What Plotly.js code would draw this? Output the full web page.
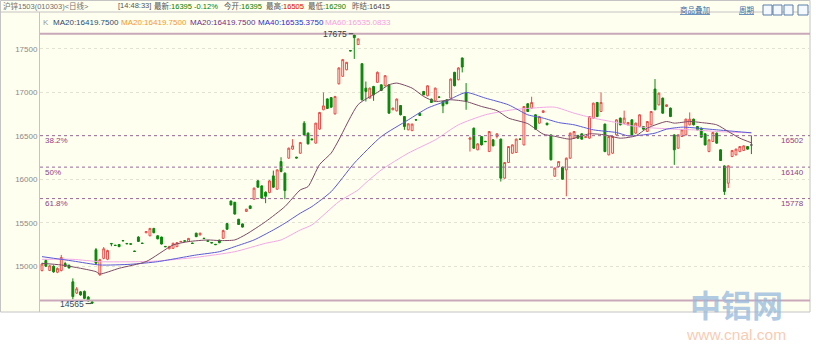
<!DOCTYPE html>
<html><head><meta charset="utf-8">
<script src="https://cdn.plot.ly/plotly-3.0.1.min.js"></script>
<style>html,body{margin:0;padding:0;background:#fff;}#chart{width:816px;height:362px;}</style>
</head><body><div id="chart"></div>
<script>
// ---- candle data (daily, 沪锌1503) ----
const opens = [
14950,15065,14950,15000,14930,14950,15030,15010,14820,14690,
14705,14710,14645,14590,15190,14900,15090,15080,15262,15242,
15250,15296,15262,15258,15174,15335,15266,15385,15350,15435,
15350,15335,15228,15200,15206,15225,15280,15292,15285,15266,
15380,15360,15322,15292,15272,15252,15300,15320,15490,15750,
15735,15540,15487,15630,15694,15771,15982,15924,15852,15847,
16039,15886,16204,16070,16243,16347,16255,16300,16646,16531,
16465,16416,16577,16800,16925,16940,16753,17099,17185,17260,
17481,17660,17550,17330,17049,16934,17068,17115,17087,17076,
17087,16800,16788,16849,16722,16569,16560,16686,16761,17011,
16961,16923,16903,16948,16896,16915,16934,17231,17145,17396,
17000,16460,16588,16339,16492,16437,16319,16454,16492,16462,
16013,16193,16300,16308,16464,16396,16869,16819,16742,16646,
16769,16646,16511,16035,16146,16139,16108,16243,16473,16505,
16523,16480,16473,16704,16884,16780,16635,16281,16300,16511,
16704,16646,16627,16684,16531,16607,16607,16550,16627,17038,
16857,16934,16838,16819,16511,16358,16492,16511,16627,16692,
16607,16588,16523,16319,16435,16531,16339,16154,15955,16262,
16281,16319,16331,16377,16395];
const highs = [
15040,15080,15015,15010,14985,15130,15050,15020,14860,14760,
14715,14720,14655,14600,15210,15085,15220,15190,15265,15245,
15255,15300,15265,15260,15178,15345,15268,15405,15440,15440,
15355,15340,15232,15232,15270,15278,15288,15295,15325,15270,
15385,15385,15325,15295,15275,15255,15305,15420,15495,15755,
15740,15545,15490,15660,15698,15905,15990,15930,15860,15990,
16100,16115,16254,16080,16365,16462,16258,16430,16670,16540,
16468,16650,16775,16999,16930,16945,16960,17290,17385,17350,
17483,17675,17620,17335,17125,17055,17075,17240,17092,17200,
17092,16825,16930,16855,16728,16645,16640,16690,16765,17015,
17082,16928,17055,16950,16900,16920,17160,17236,17290,17400,
17107,16490,16595,16415,16498,16440,16555,16460,16530,16468,
16198,16382,16400,16468,16466,16843,16875,16950,16748,16728,
16792,16650,16515,16135,16210,16145,16250,16537,16555,16510,
16528,16495,16728,16882,16890,17000,16640,16498,16498,16690,
16710,16790,16660,16690,16652,16748,16612,16670,16786,17153,
16998,16940,16862,16825,16518,16517,16575,16698,16770,16698,
16612,16595,16530,16460,16545,16538,16345,16160,16160,16338,
16352,16382,16390,16382,16505];
const lows = [
14940,14990,14945,14925,14920,14940,14990,14975,14620,14680,
14660,14620,14590,14565,15020,14890,15080,15070,15230,15235,
15220,15290,15255,15250,15168,15280,15260,15380,15345,15380,
15310,15250,15220,15195,15200,15220,15278,15285,15280,15258,
15335,15355,15315,15285,15265,15245,15265,15315,15420,15700,
15595,15475,15445,15625,15660,15765,15905,15775,15725,15840,
15900,15880,16080,15771,16238,16340,16242,16295,16505,16400,
16452,16410,16570,16795,16810,16825,16745,17090,17180,17255,
17475,17385,17545,16905,16895,16930,16903,17110,17015,17070,
16755,16795,16780,16735,16569,16565,16555,16680,16730,16968,
16955,16880,16898,16942,16761,16865,16930,17070,17140,17230,
16800,16319,16350,16335,16390,16430,16315,16380,16470,15974,
16008,16188,16295,16303,16458,16390,16775,16815,16570,16640,
16765,16622,16218,16030,16140,15995,15805,16238,16468,16468,
16458,16475,16468,16698,16716,16775,16312,16276,16295,16505,
16620,16640,16622,16505,16525,16600,16572,16545,16620,16795,
16850,16755,16832,16716,16166,16352,16488,16505,16620,16620,
16565,16480,16390,16312,16430,16410,16210,15820,15900,16255,
16275,16312,16325,16342,16290];
const closes = [
15025,15000,15005,14935,14975,15100,15000,14980,14650,14740,
14670,14630,14600,14575,15035,15075,15200,15180,15258,15238,
15225,15292,15258,15254,15170,15285,15262,15398,15435,15385,
15315,15255,15224,15228,15264,15271,15285,15288,15320,15262,
15340,15380,15318,15288,15268,15248,15270,15410,15425,15705,
15600,15480,15450,15656,15663,15898,15909,15782,15805,15982,
15909,16108,16089,15870,16358,16385,16245,16423,16511,16408,
16455,16646,16769,16845,16815,16830,16953,17281,17377,17346,
17477,17630,17615,16915,17011,17049,16972,17231,17022,17192,
16761,16819,16923,16742,16607,16638,16635,16682,16734,16972,
17076,16884,17049,16944,16846,16869,17153,17076,17281,17292,
16896,16475,16358,16408,16396,16433,16550,16385,16523,16013,
16193,16377,16396,16462,16460,16838,16780,16884,16577,16722,
16788,16627,16224,16130,16204,16001,16243,16531,16550,16473,
16462,16490,16722,16876,16722,16884,16319,16492,16492,16684,
16627,16704,16654,16511,16646,16742,16577,16665,16780,16800,
16991,16761,16857,16722,16339,16511,16569,16692,16692,16627,
16569,16485,16396,16454,16538,16416,16216,15859,16154,16331,
16347,16377,16385,16347,16395];

// ---- moving averages (candle index, value) ----
const ma20Idx = [0,5,10,14,15,20,27,34,38,43,46,50,53,58,63,67,69,72,75,77,82,87,90,92,96,99,102,106,110,114,118,121,126,130,133,137,142,146,150,154,157,162,164,168,171,175,178,181,184];
const ma20Val = [15033,15014,14976,14937,14910,14976,15053,15244,15283,15302,15295,15302,15368,15513,15686,15878,15916,16170,16301,16454,16860,17000,17087,17107,17049,16953,16895,16915,16895,16838,16790,16704,16640,16520,16495,16462,16523,16511,16473,16500,16589,16665,16646,16665,16653,16627,16550,16473,16420];
const ma40Idx = [0,8,15,23,30,35,40,46,50,55,60,63,67,70,75,81,88,95,100,105,110,115,121,126,130,134,138,143,149,152,156,159,162,166,170,175,180,184];
const ma40Val = [15110,15060,15014,15022,15052,15090,15129,15167,15225,15302,15417,15494,15610,15686,15858,16186,16492,16684,16819,16903,16999,16934,16857,16742,16704,16653,16627,16569,16538,16500,16511,16531,16577,16600,16589,16569,16550,16535];
const ma60Idx = [0,8,15,25,30,40,50,58,62,67,70,77,82,84,88,95,102,108,115,122,127,133,138,143,149,154,159,164,169,175,181,184];
const ma60Val = [15079,15079,15052,15052,15060,15102,15167,15264,15302,15417,15475,15743,15878,15960,16108,16301,16454,16627,16742,16800,16819,16830,16761,16704,16653,16607,16589,16577,16569,16550,16538,16535];

// ---- reference levels ----
const topLevel = 17675, bottomLevel = 14605;
const fibLevels = [16502, 16140, 15778];
const fibLabels = ['38.2%', '50%', '61.8%'];
const yTicks = [15000, 15500, 16000, 16500, 17000, 17500];

// ---- header texts ----
const headerTitle = '沪锌1503(010303)<日线>';
const headerTime = '[14:48:33]';
const quoteLabels = ['最新:', '今开:', '最高:', '最低:', '昨结:'];
const quoteValues = ['16395', '16395', '16505', '16290', '16415'];
const quoteColors = ['#008000', '#008000', '#e00000', '#008000', '#444444'];
const quoteChange = '-0.12%';
const maLegendNames = ['MA20', 'MA20', 'MA20', 'MA40', 'MA60'];
const maLegendValues = ['16419.7500', '16419.7500', '16419.7500', '16535.3750', '16535.0833'];
const maLegendColors = ['#2c4a6e', '#f39a1e', '#6a2d86', '#2b2bd0', '#f5a0de'];

// ---- geometry helpers (pixel -> paper) ----
const PL = 40, PR = 810, PT = 12, PB = 312;
const fx = px => (px - PL) / (PR - PL);
const fy = py => (PB - py) / (PB - PT);

const n = opens.length;
const idx = opens.map((_, i) => i);
const last = n - 1;

const traces = [
  {type: 'candlestick', x: idx.slice(0, last), open: opens.slice(0, last), high: highs.slice(0, last),
   low: lows.slice(0, last), close: closes.slice(0, last),
   increasing: {line: {color: '#ec4b47', width: 1}, fillcolor: '#fffff0'},
   decreasing: {line: {color: '#0a870a', width: 1}, fillcolor: '#0a870a'},
   whiskerwidth: 0, hoverinfo: 'skip'},
  {type: 'candlestick', x: [idx[last]], open: [opens[last]], high: [highs[last]], low: [lows[last]], close: [closes[last]],
   increasing: {line: {color: '#555555', width: 1}, fillcolor: '#555555'},
   decreasing: {line: {color: '#555555', width: 1}, fillcolor: '#555555'},
   whiskerwidth: 0, hoverinfo: 'skip'},
  {type: 'scatter', mode: 'lines', x: ma60Idx, y: ma60Val, line: {color: '#f2a8e6', width: 1, shape: 'spline', smoothing: 0.6}, hoverinfo: 'skip'},
  {type: 'scatter', mode: 'lines', x: ma40Idx, y: ma40Val, line: {color: '#5a5ad8', width: 1, shape: 'spline', smoothing: 0.6}, hoverinfo: 'skip'},
  {type: 'scatter', mode: 'lines', x: ma20Idx, y: ma20Val, line: {color: '#7c4a66', width: 1, shape: 'spline', smoothing: 0.6}, hoverinfo: 'skip'}
];

const cjk = 'Liberation Sans, Noto Sans CJK SC, sans-serif';
const ann = [];
function txt(px, py, text, color, size, anchor, extra) {
  ann.push(Object.assign({xref: 'paper', yref: 'paper', x: fx(px), y: fy(py), text: text, showarrow: false,
    xanchor: anchor || 'left', yanchor: 'middle', font: {family: cjk, size: size || 8, color: color}}, extra || {}));
}
// header row
txt(1, 6, headerTitle, '#707070', 7.5);
txt(116, 6, headerTime, '#555555', 7.5);
const qX = [152, 222, 264, 306, 350];
quoteLabels.forEach((l, i) => {
  let t = l + '<span style="color:' + quoteColors[i] + '">' + quoteValues[i] + '</span>';
  if (i === 0) t += ' <span style="color:#008000">' + quoteChange + '</span>';
  txt(qX[i], 6, t, '#555555', 7.5);
});
txt(678, 10, '<u>商品叠加</u>', '#3a6ea8', 7.5);
txt(737, 10, '<u>周期</u>', '#3a6ea8', 7.5);
// legend row
txt(41, 23, 'K', '#9a9a9a', 8);
const lgX = [51, 119, 188, 256, 323];
maLegendNames.forEach((nm, i) => txt(lgX[i], 23, nm + ':' + maLegendValues[i], maLegendColors[i], 8));
// fib labels
fibLevels.forEach((v, i) => {
  ann.push({xref: 'paper', yref: 'y', x: fx(43), y: v, yshift: -5, text: fibLabels[i], showarrow: false,
    xanchor: 'left', yanchor: 'middle', font: {family: cjk, size: 8, color: '#8e3f86'}});
  ann.push({xref: 'paper', yref: 'y', x: fx(806), y: v, yshift: -5, text: String(v), showarrow: false,
    xanchor: 'right', yanchor: 'middle', font: {family: cjk, size: 8, color: '#8e3f86'}});
});
// extreme labels
const hiIdx = highs.indexOf(Math.max(...highs));
const loIdx = lows.indexOf(Math.min(...lows));
ann.push({x: hiIdx, y: Math.max(...highs), xref: 'x', yref: 'y', text: String(Math.max(...highs)), showarrow: true,
  arrowhead: 0, arrowwidth: 1, arrowcolor: '#444', ax: -19, ay: 0, standoff: 1, font: {family: cjk, size: 8.5, color: '#3a3a3a'}});
ann.push({x: loIdx, y: Math.min(...lows) + 5, xref: 'x', yref: 'y', text: String(Math.min(...lows)), showarrow: true,
  arrowhead: 0, arrowwidth: 1, arrowcolor: '#444', ax: -20, ay: 0, standoff: 1, font: {family: cjk, size: 8.5, color: '#2e4a66'}});
// watermark
txt(736, 303, '<b>中铝网</b>', '', 31, 'center', {font: {family: 'Noto Sans CJK SC', size: 31, color: 'rgba(150,185,220,0.75)'}});
txt(736, 334, 'www.cnal.com', '', 15, 'center', {font: {family: 'Liberation Sans', size: 15.5, color: 'rgba(245,190,160,0.8)'}});

const shapes = [
  {type: 'rect', xref: 'paper', yref: 'paper', x0: fx(0.5), x1: fx(810), y0: fy(312), y1: fy(0.5), fillcolor: '#fffff0', line: {color: '#c4c4c4', width: 1}, layer: 'below'},
  {type: 'line', xref: 'paper', yref: 'paper', x0: fx(0.5), x1: fx(810), y0: 1, y1: 1, line: {color: '#c4c4c4', width: 1}},
  {type: 'line', xref: 'paper', yref: 'y', x0: 0, x1: 1, y0: topLevel, y1: topLevel, line: {color: '#c9a9b9', width: 2}},
  {type: 'line', xref: 'paper', yref: 'y', x0: 0, x1: 1, y0: bottomLevel, y1: bottomLevel, line: {color: '#c9a9b9', width: 2}}
];
fibLevels.forEach(v => shapes.push({type: 'line', xref: 'paper', yref: 'y', x0: 0, x1: 1, y0: v, y1: v, line: {color: '#9a6a98', width: 1, dash: 'dot'}}));
// toolbar icons
[[763, 772], [773, 782], [784, 793], [798, 808]].forEach(([a, b]) => shapes.push({type: 'rect', xref: 'paper', yref: 'paper',
  x0: fx(a), x1: fx(b), y0: fy(15), y1: fy(5), line: {color: '#5a7ea8', width: 1}, fillcolor: '#f4f8ff'}));

const layout = {
  width: 816, height: 362, margin: {l: 40, r: 6, t: 12, b: 50, pad: 0},
  paper_bgcolor: '#ffffff', plot_bgcolor: 'rgba(0,0,0,0)', showlegend: false,
  xaxis: {range: [-0.52, 199.2], showgrid: false, zeroline: false, showticklabels: false, ticks: '', showline: false,
    rangeslider: {visible: false}, fixedrange: true},
  yaxis: {range: [14473, 17925], tickvals: yTicks, ticktext: yTicks.map(String), showgrid: true, gridcolor: '#e2e2d2',
    griddash: 'dot', gridwidth: 1, zeroline: false, ticks: '', showline: true, linecolor: '#c4c4c4', linewidth: 1,
    tickfont: {family: 'Liberation Sans', size: 8, color: '#8a8a8a'}, fixedrange: true},
  annotations: ann, shapes: shapes, hovermode: false
};
Plotly.newPlot('chart', traces, layout, {displayModeBar: false, staticPlot: true});
</script></body></html>
